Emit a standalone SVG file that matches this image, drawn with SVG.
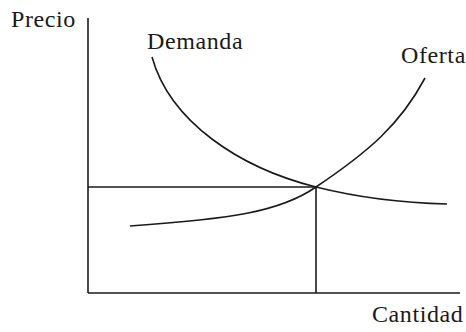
<svg xmlns="http://www.w3.org/2000/svg" width="466" height="332" viewBox="0 0 466 332">
<style>
.ln{fill:none;stroke:#1a1a1a;stroke-width:1.6}
.t{font-family:"Liberation Serif","Times New Roman",serif;font-size:24px;letter-spacing:0.6px;fill:#1a1a1a}
</style>
<rect width="466" height="332" fill="#fff"/>
<g id="axes">
<line class="ln" x1="88" y1="18" x2="88" y2="293"/>
<line class="ln" x1="88" y1="293" x2="460" y2="293"/>
</g>
<g id="connectors">
<line class="ln" x1="88" y1="187" x2="316" y2="187"/>
<line class="ln" x1="316" y1="187" x2="316" y2="293"/>
</g>
<g id="demanda">
<path class="ln" d="M152,57 C170,122 240,168 316,187 C360,198 405,203 447,204"/>
<text class="t" x="147" y="49">Demanda</text>
</g>
<g id="oferta">
<path class="ln" d="M130,226 C230,219 280,212 316,187 C368,152 400,125 425,78"/>
<text class="t" x="401" y="63">Oferta</text>
</g>
<g id="labels">
<text class="t" x="11" y="27">Precio</text>
<text class="t" x="372" y="322">Cantidad</text>
</g>
</svg>
